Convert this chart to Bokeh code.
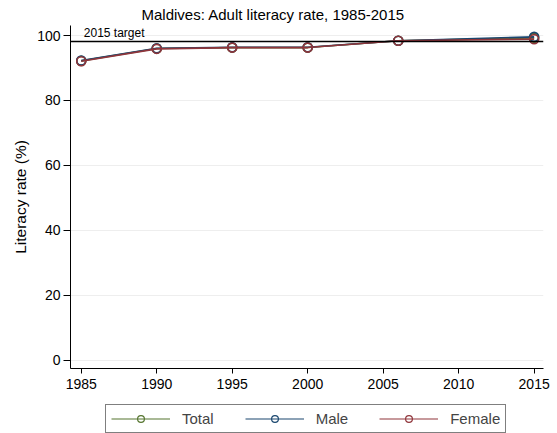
from bokeh.plotting import figure
from bokeh.models import Span, Label, Legend, LegendItem, FixedTicker, Range1d
from bokeh.layouts import column
from bokeh.embed import file_html
from bokeh.resources import INLINE

years = [1985, 1990, 1995, 2000, 2006, 2015]
total = [92.2, 96.0, 96.3, 96.3, 98.4, 99.3]
male = [92.3, 96.1, 96.4, 96.4, 98.4, 99.6]
female = [92.1, 95.9, 96.3, 96.3, 98.4, 98.9]
target = 98.15
x_ticks = [1985, 1990, 1995, 2000, 2005, 2010, 2015]
y_ticks = [0, 20, 40, 60, 80, 100]
series_names = ["Total", "Male", "Female"]
series_colors = ["#55752f", "#1a476f", "#90353b"]

FONT = "Liberation Sans"

p = figure(width=553, height=403, output_backend="svg", toolbar_location=None,
           x_range=Range1d(1984.29, 2015.62), y_range=Range1d(-2.55, 103.1),
           min_border_left=70, min_border_right=10, min_border_top=25, min_border_bottom=35,
           title="Maldives: Adult literacy rate, 1985-2015")
p.title.align = "left"
p.title.offset = 71
p.title.text_font = FONT
p.title.text_font_size = "15px"
p.title.text_font_style = "normal"
p.title.text_color = "black"
p.title.standoff = 6
p.outline_line_color = None
p.background_fill_color = "white"
p.border_fill_color = "white"
p.xgrid.grid_line_color = None
p.ygrid.grid_line_color = "#eeeeee"
p.ygrid.ticker = FixedTicker(ticks=y_ticks)

p.xaxis.ticker = FixedTicker(ticks=x_ticks)
p.yaxis.ticker = FixedTicker(ticks=y_ticks)
for ax in (p.xaxis[0], p.yaxis[0]):
    ax.axis_line_color = "black"
    ax.major_tick_line_color = "black"
    ax.major_tick_in = 0
    ax.minor_tick_line_color = None
    ax.major_label_text_font = FONT
    ax.major_label_text_font_size = "14px"
    ax.major_label_text_color = "black"
p.xaxis.major_tick_out = 5
p.xaxis.major_label_standoff = 5
p.yaxis.major_tick_out = 7
p.yaxis.major_label_standoff = 3
p.yaxis.axis_label = "Literacy rate (%)"
p.yaxis.axis_label_text_font = FONT
p.yaxis.axis_label_text_font_size = "15.5px"
p.yaxis.axis_label_text_font_style = "normal"
p.yaxis.axis_label_text_color = "black"
p.yaxis.axis_label_standoff = 5

p.add_layout(Span(location=target, dimension="width", line_color="black", line_width=1.5))
p.add_layout(Label(x=1985.17, y=target + 0.35, text="2015 target", text_font=FONT,
                   text_font_size="12px", text_color="black", text_baseline="bottom"))

# legend strip (separate figure; its sample glyphs lie outside its ranges)
lg = figure(width=553, height=30, output_backend="svg", toolbar_location=None,
            x_range=Range1d(0, 1), y_range=Range1d(0, 1),
            x_axis_type=None, y_axis_type=None,
            min_border_left=0, min_border_right=0, min_border_top=0, min_border_bottom=0)
lg.outline_line_color = None
lg.xgrid.visible = False
lg.ygrid.visible = False

items = []
for name, vals, col in zip(series_names, [total, male, female], series_colors):
    p.line(years, vals, line_color=col, line_width=1.6)
    p.scatter(years, vals, marker="circle", size=9, line_color=col, line_width=1.6,
              fill_color=None)
    l = lg.line(years, vals, line_color=col, line_width=1.2)
    c = lg.scatter(years, vals, marker="circle", size=7, line_color=col, line_width=1.2,
                   fill_color=None)
    items.append(LegendItem(label=name, renderers=[l, c]))

legend = Legend(items=items, orientation="horizontal", location=(35, 0),
                label_text_font=FONT, label_text_font_size="15px",
                glyph_width=59, glyph_height=17, spacing=31, padding=5,
                label_standoff=12, border_line_color="black", border_line_width=1,
                background_fill_alpha=1.0, margin=0)
lg.add_layout(legend, "center")

open("out.html", "w").write(file_html(column(p, lg, spacing=0), INLINE))
